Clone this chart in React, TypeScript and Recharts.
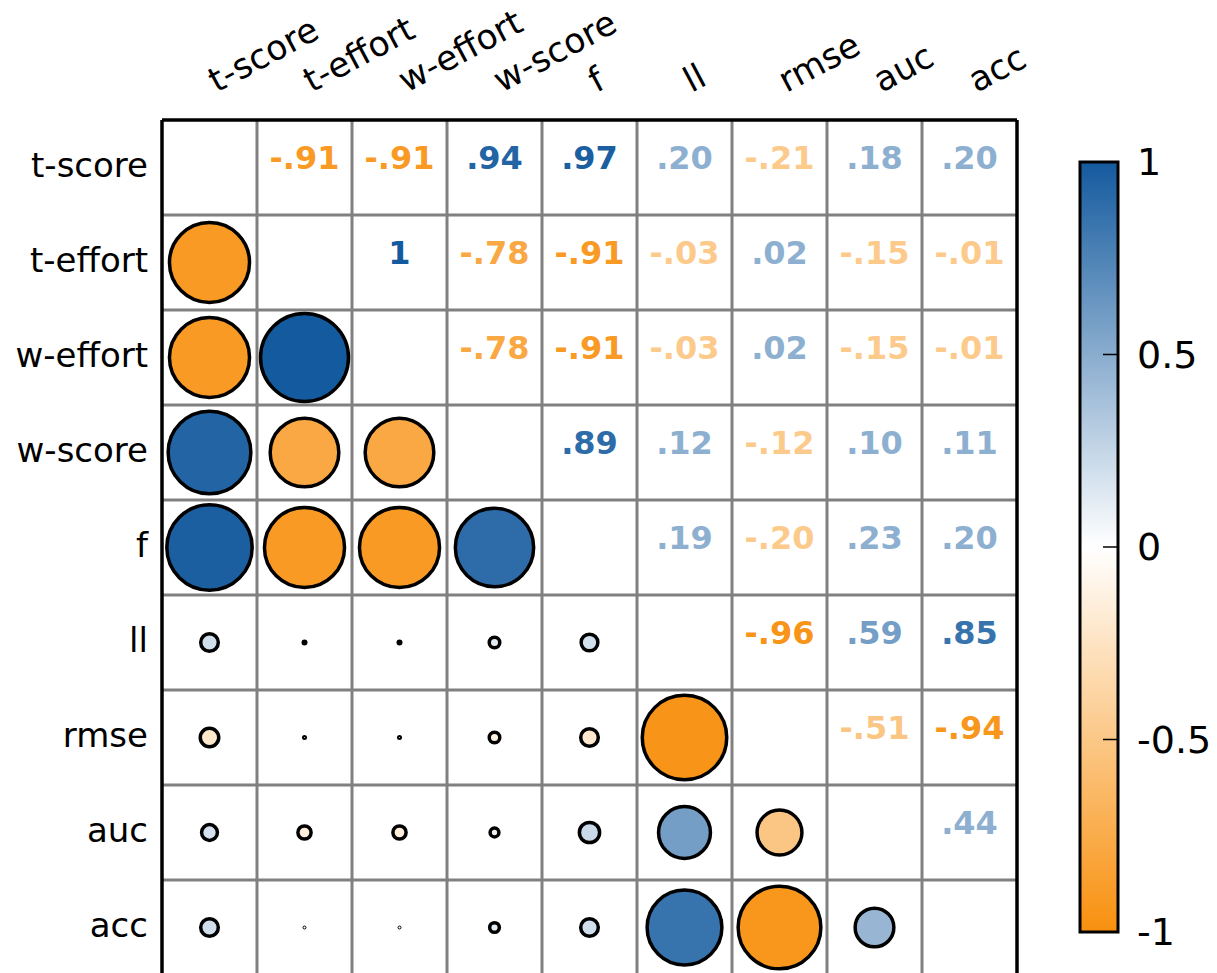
import {
  Bar,
  BarChart,
  ReferenceLine,
  Scatter,
  ScatterChart,
  XAxis,
  YAxis,
} from 'recharts'

const metrics = ['t-score', 't-effort', 'w-effort', 'w-score', 'f', 'll', 'rmse', 'auc', 'acc']

// correlation of each metric with every metric listed after it
const tScoreCorr = [-0.91, -0.91, 0.94, 0.97, 0.2, -0.21, 0.18, 0.2]
const tEffortCorr = [1, -0.78, -0.91, -0.03, 0.02, -0.15, -0.01]
const wEffortCorr = [-0.78, -0.91, -0.03, 0.02, -0.15, -0.01]
const wScoreCorr = [0.89, 0.12, -0.12, 0.1, 0.11]
const fCorr = [0.19, -0.2, 0.23, 0.2]
const llCorr = [-0.96, 0.59, 0.85]
const rmseCorr = [-0.51, -0.94]
const aucCorr = [0.44]

const upperRows = [tScoreCorr, tEffortCorr, wEffortCorr, wScoreCorr, fCorr, llCorr, rmseCorr, aucCorr]

const colorbarTicks = [-1, -0.5, 0, 0.5, 1]
const colorbarRange = [{ name: 'r', range: [-1, 1] }]

const FONT = '"DejaVu Sans", sans-serif'
const NEG = [248, 144, 14]
const POS = [20, 90, 158]

function corrColor(v: number) {
  const t = Math.min(1, Math.abs(v))
  const base = v < 0 ? NEG : POS
  const c = base.map((b) => Math.round(255 + (b - 255) * t))
  return `rgb(${c[0]},${c[1]},${c[2]})`
}

// light values are clamped so the numbers stay readable
function textColor(v: number) {
  const t = Math.max(0.48, Math.abs(v))
  return corrColor(v < 0 ? -t : t)
}

function formatCorr(v: number) {
  if (v === 1) return '1'
  return v.toFixed(2).replace('0.', '.')
}

type Cell = { x: number; y: number; v: number }

const textCells: Cell[] = []
const circleCells: Cell[] = []
upperRows.forEach((row, i) => {
  row.forEach((v, k) => {
    const j = i + 1 + k
    textCells.push({ x: j + 0.5, y: i + 0.5, v })
    circleCells.push({ x: i + 0.5, y: j + 0.5, v })
  })
})

const gridValues = [1, 2, 3, 4, 5, 6, 7, 8]
const tickValues = metrics.map((_, i) => i + 0.5)

function TopTick(props: any) {
  const { x, payload } = props
  const ax = x + 7
  const ay = 93
  return (
    <text
      x={ax}
      y={ay}
      transform={`rotate(-28 ${ax} ${ay})`}
      fontFamily={FONT}
      fontSize={34.5}
      fill="#000"
    >
      {metrics[Math.floor(payload.value)]}
    </text>
  )
}

function LeftTick(props: any) {
  const { y, payload } = props
  return (
    <text x={148} y={y + 9} textAnchor="end" fontFamily={FONT} fontSize={34} fill="#000">
      {metrics[Math.floor(payload.value)]}
    </text>
  )
}

function CorrCircle(props: any) {
  const { cx, cy, payload } = props
  const a = Math.abs(payload.v)
  const r = Math.max(1.5, 44 * a)
  return (
    <circle
      cx={cx}
      cy={cy}
      r={r}
      fill={corrColor(payload.v)}
      stroke="#000"
      strokeWidth={Math.min(3.5, 100 * a)}
    />
  )
}

function CorrText(props: any) {
  const { cx, cy, payload } = props
  return (
    <text
      x={cx}
      y={cy + 1.5}
      textAnchor="middle"
      fontFamily={FONT}
      fontWeight="bold"
      fontSize={32}
      fill={textColor(payload.v)}
    >
      {formatCorr(payload.v)}
    </text>
  )
}

function ColorbarTick(props: any) {
  const { y, payload } = props
  return (
    <g>
      <line x1={1103} x2={1118} y1={y} y2={y} stroke="#000" strokeWidth={1.5} />
      <text x={1137} y={y + 13} fontFamily={FONT} fontSize={38} fill="#000">
        {payload.value}
      </text>
    </g>
  )
}

export default function App() {
  return (
    <div style={{ position: 'absolute', left: 0, top: 0, width: 1217, height: 973, overflow: 'hidden', background: '#fff' }}>
      <ScatterChart width={1217} height={980} margin={{ top: 100, left: 142, right: 200, bottom: 5 }}>
        <XAxis
          type="number"
          dataKey="x"
          domain={[0, 9]}
          ticks={tickValues}
          interval={0}
          orientation="top"
          height={20}
          axisLine={false}
          tickLine={false}
          tick={<TopTick />}
        />
        <YAxis
          type="number"
          dataKey="y"
          domain={[0, 9]}
          reversed
          ticks={tickValues}
          interval={0}
          width={20}
          axisLine={false}
          tickLine={false}
          tick={<LeftTick />}
        />
        {gridValues.map((g) => (
          <ReferenceLine key={`v${g}`} x={g} stroke="#808080" strokeWidth={3} />
        ))}
        {gridValues.map((g) => (
          <ReferenceLine key={`h${g}`} y={g} stroke="#808080" strokeWidth={3} />
        ))}
        <ReferenceLine y={0} stroke="#000" strokeWidth={3.5} />
        <ReferenceLine x={0} stroke="#000" strokeWidth={3.5} />
        <ReferenceLine x={9} stroke="#000" strokeWidth={3.5} />
        <Scatter data={circleCells} shape={<CorrCircle />} isAnimationActive={false} />
        <Scatter data={textCells} shape={<CorrText />} isAnimationActive={false} />
      </ScatterChart>
      <div style={{ position: 'absolute', left: 0, top: 0 }}>
        <BarChart
          width={1217}
          height={973}
          data={colorbarRange}
          barCategoryGap={0}
          margin={{ top: 162, left: 1080, right: 79, bottom: 41 }}
        >
          <defs>
            <linearGradient id="corrScale" x1="0" y1="0" x2="0" y2="1">
              <stop offset="0%" stopColor={corrColor(1)} />
              <stop offset="50%" stopColor={corrColor(0)} />
              <stop offset="100%" stopColor={corrColor(-1)} />
            </linearGradient>
          </defs>
          <XAxis dataKey="name" hide />
          <YAxis
            type="number"
            domain={[-1, 1]}
            ticks={colorbarTicks}
            interval={0}
            orientation="right"
            width={20}
            axisLine={false}
            tickLine={false}
            tick={<ColorbarTick />}
          />
          <Bar
            dataKey="range"
            fill="url(#corrScale)"
            stroke="#000"
            strokeWidth={3}
            isAnimationActive={false}
          />
        </BarChart>
      </div>
    </div>
  )
}
